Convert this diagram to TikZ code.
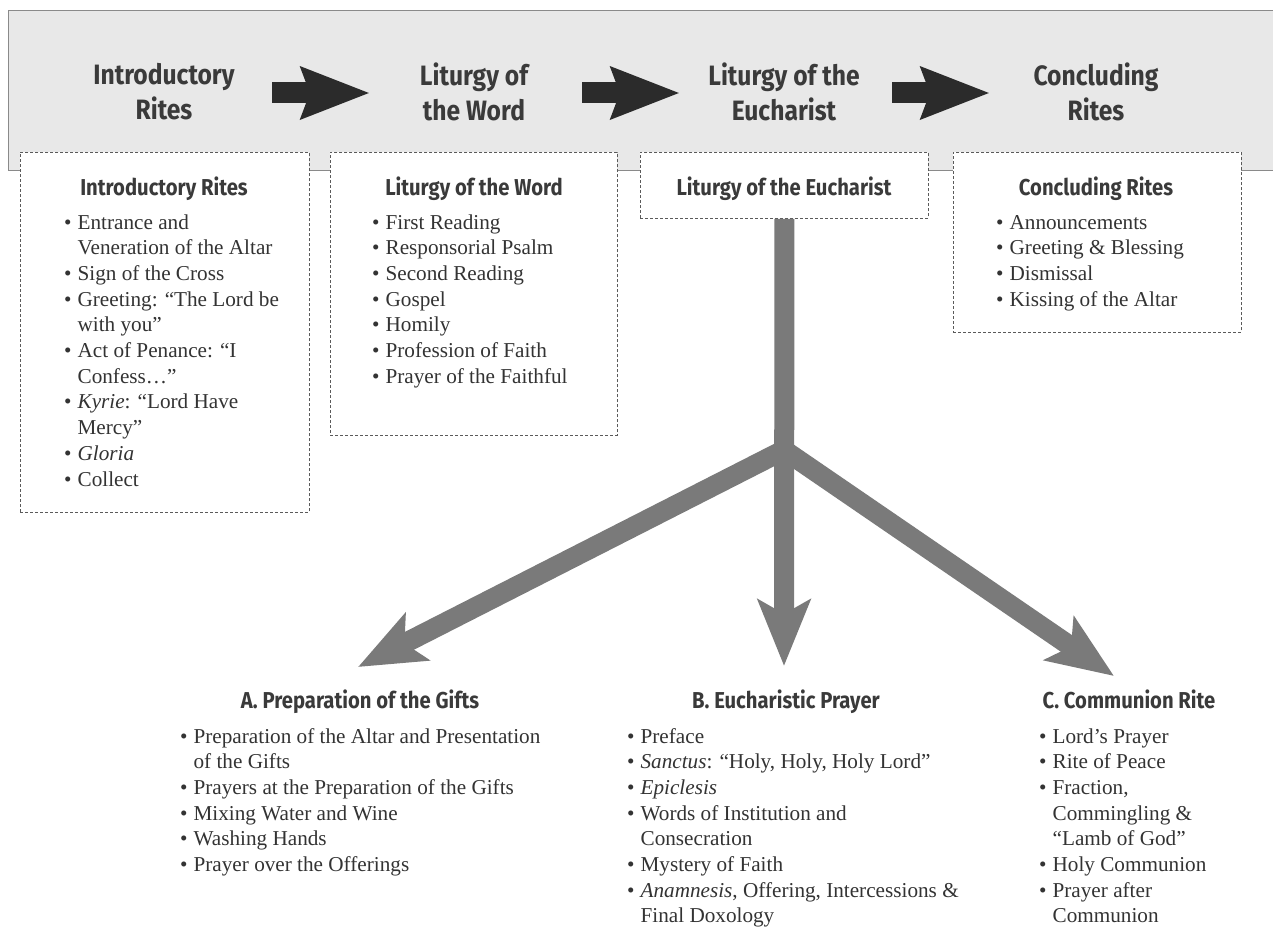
\documentclass[tikz,border=0pt]{standalone}
\usepackage{fontspec}
\setmainfont{Liberation Serif}
\newfontfamily\hdrfont{Fira Sans}[FakeStretch=0.88]
\usetikzlibrary{arrows.meta,calc}
\definecolor{bandfill}{HTML}{E8E8E8}
\definecolor{bandline}{HTML}{8A8A8A}
\definecolor{boxline}{HTML}{5A5A5A}
\definecolor{titlecol}{HTML}{3A3A3A}
\definecolor{bodycol}{HTML}{333333}
\definecolor{blackarr}{HTML}{2B2B2B}
\definecolor{grayarr}{HTML}{7A7A7A}
\tikzset{
  band/.style={fill=bandfill, draw=bandline, line width=0.8pt},
  dbox/.style={draw=boxline, fill=white, dash pattern=on 3pt off 2pt, line width=0.9pt, anchor=north west, inner sep=0pt},
  title/.style={font=\hdrfont\bfseries\fontsize{28}{35}\selectfont, text=titlecol, align=center, inner sep=0pt},
  hdr/.style={font=\hdrfont\bfseries\fontsize{23}{26}\selectfont, text=titlecol, anchor=base, inner sep=0pt},
  lst/.style={font=\fontsize{21.2}{25.7}\selectfont, text=bodycol, anchor=base west, inner sep=0pt},
  blackarrow/.style={draw=blackarr, line width=21pt, -{Stealth[length=68pt,width=50pt,inset=8pt]}},
  grayarrow/.style={draw=grayarr, line width=20pt, -{Stealth[length=66pt,width=52pt,inset=14pt]}},
}
\newcommand{\bl}{\textbullet&}
\begin{document}
\begin{tikzpicture}[x=1pt,y=-1pt]
\useasboundingbox[fill=white] (0,0) rectangle (1273,928);
% top band
\path[band] (8,10) rectangle (1290,170);
% titles
\node[title] (t1) at (164,92) {Introductory\\Rites};
\node[title] (t2) at (474,92) {Liturgy of\\the Word};
\node[title] (t3) at (784,92) {Liturgy of the\\Eucharist};
\node[title] (t4) at (1096,92) {Concluding\\Rites};
\draw[blackarrow] ($(t1.center)+(108,1)$) -- ($(t2.center)+(-104,1)$);
\draw[blackarrow] ($(t2.center)+(108,1)$) -- ($(t3.center)+(-104,1)$);
\draw[blackarrow] ($(t3.center)+(108,1)$) -- ($(t4.center)+(-106,1)$);
% dashed boxes
\node[dbox, minimum width=289pt, minimum height=360pt] (b1) at (20,152) {};
\node[dbox, minimum width=287pt, minimum height=283pt] (b2) at (330,152) {};
\node[dbox, minimum width=288pt, minimum height=66pt] (b3) at (640,152) {};
\node[dbox, minimum width=288pt, minimum height=180pt] (b4) at (953,152) {};
% box headers
\node[hdr] (h1) at (164,195) {Introductory Rites};
\node[hdr] (h2) at (474,195) {Liturgy of the Word};
\node[hdr] (h3) at (784,195) {Liturgy of the Eucharist};
\node[hdr] (h4) at (1096,195) {Concluding Rites};
% lists in boxes
\node[lst] (l1) at (64,229) {\begin{tabular}[t]{@{}l@{\hspace{6pt}}l@{}}
\bl Entrance and\\ & Veneration of the Altar\\
\bl Sign of the Cross\\
\bl Greeting: “The Lord be\\ & with you”\\
\bl Act of Penance: “I\\ & Confess…”\\
\bl \textit{Kyrie}: “Lord Have\\ & Mercy”\\
\bl \textit{Gloria}\\
\bl Collect
\end{tabular}};
\node[lst] (l2) at (372,229) {\begin{tabular}[t]{@{}l@{\hspace{6pt}}l@{}}
\bl First Reading\\
\bl Responsorial Psalm\\
\bl Second Reading\\
\bl Gospel\\
\bl Homily\\
\bl Profession of Faith\\
\bl Prayer of the Faithful
\end{tabular}};
\node[lst] (l4) at (996,229) {\begin{tabular}[t]{@{}l@{\hspace{6pt}}l@{}}
\bl Announcements\\
\bl Greeting \& Blessing\\
\bl Dismissal\\
\bl Kissing of the Altar
\end{tabular}};
% gray arrows
\coordinate (junc) at (784,450);
\coordinate (tipA) at (358,667);
\coordinate (tipB) at (784,666);
\coordinate (tipC) at (1114,676);
\draw[grayarrow] (b3.south) -- (tipB);
\draw[grayarrow] (junc) -- (tipA);
\draw[grayarrow] (junc) -- (tipC);
% bottom headers
\node[hdr] (hA) at (360,708) {A. Preparation of the Gifts};
\node[hdr] (hB) at (786,708) {B. Eucharistic Prayer};
\node[hdr] (hC) at (1129,708) {C. Communion Rite};
\node[lst] (lA) at (180,743) {\begin{tabular}[t]{@{}l@{\hspace{6pt}}l@{}}
\bl Preparation of the Altar and Presentation\\ & of the Gifts\\
\bl Prayers at the Preparation of the Gifts\\
\bl Mixing Water and Wine\\
\bl Washing Hands\\
\bl Prayer over the Offerings
\end{tabular}};
\node[lst] (lB) at (627,743) {\begin{tabular}[t]{@{}l@{\hspace{6pt}}l@{}}
\bl Preface\\
\bl \textit{Sanctus}: “Holy, Holy, Holy Lord”\\
\bl \textit{Epiclesis}\\
\bl Words of Institution and\\ & Consecration\\
\bl Mystery of Faith\\
\bl \textit{Anamnesis}, Offering, Intercessions \&\\ & Final Doxology
\end{tabular}};
\node[lst] (lC) at (1039,743) {\begin{tabular}[t]{@{}l@{\hspace{6pt}}l@{}}
\bl Lord’s Prayer\\
\bl Rite of Peace\\
\bl Fraction,\\ & Commingling \&\\ & “Lamb of God”\\
\bl Holy Communion\\
\bl Prayer after\\ & Communion
\end{tabular}};
\end{tikzpicture}
\end{document}
